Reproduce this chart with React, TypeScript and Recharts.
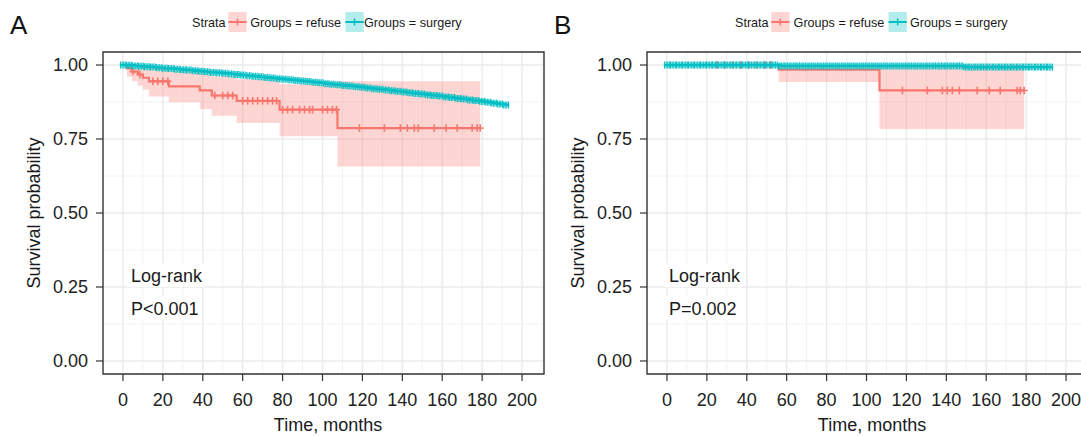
import React from 'react';
import {
  ComposedChart,
  Line,
  Area,
  Scatter,
  XAxis,
  YAxis,
  CartesianGrid,
  ReferenceArea,
} from 'recharts';

// ---------- data ----------
const xTicks = [0, 20, 40, 60, 80, 100, 120, 140, 160, 180, 200];
const xMinor = [10, 30, 50, 70, 90, 110, 130, 150, 170, 190, 210];
const yTicks = [0, 0.25, 0.5, 0.75, 1.0];
const yMinor = [0.125, 0.375, 0.625, 0.875];

const surgeryTime = [
  0, 3, 6, 9, 12, 15, 18, 21, 24, 27, 30, 33, 36, 39, 42, 45, 48, 51, 54, 57, 60, 63, 66, 69, 72, 75,
  78, 81, 84, 87, 90, 93, 96, 99, 102, 105, 108, 111, 114, 117, 120, 123, 126, 129, 132, 135, 138,
  141, 144, 147, 150, 153, 156, 159, 162, 165, 168, 171, 174, 177, 180, 183, 186, 189, 192,
];
const surgeryA_surv = [
  1.0, 0.999, 0.997, 0.996, 0.994, 0.993, 0.991, 0.989, 0.988, 0.986, 0.984, 0.983, 0.981, 0.979,
  0.977, 0.975, 0.974, 0.972, 0.97, 0.968, 0.966, 0.964, 0.962, 0.96, 0.958, 0.956, 0.954, 0.952,
  0.95, 0.948, 0.946, 0.944, 0.942, 0.94, 0.937, 0.935, 0.933, 0.931, 0.929, 0.927, 0.925, 0.922,
  0.92, 0.918, 0.916, 0.913, 0.911, 0.909, 0.906, 0.904, 0.902, 0.899, 0.897, 0.895, 0.892, 0.89,
  0.887, 0.885, 0.882, 0.88, 0.877, 0.874, 0.871, 0.868, 0.865,
];
const surgeryB_surv = [
  1.0, 1.0, 1.0, 1.0, 1.0, 1.0, 1.0, 1.0, 1.0, 1.0, 1.0, 1.0, 1.0, 1.0, 1.0, 1.0, 1.0, 1.0, 1.0,
  0.997, 0.997, 0.997, 0.997, 0.997, 0.997, 0.997, 0.997, 0.997, 0.997, 0.997, 0.997, 0.997, 0.997,
  0.997, 0.997, 0.997, 0.997, 0.997, 0.997, 0.997, 0.997, 0.997, 0.997, 0.997, 0.997, 0.997, 0.997,
  0.997, 0.997, 0.997, 0.993, 0.993, 0.993, 0.993, 0.993, 0.993, 0.993, 0.993, 0.993, 0.993, 0.993,
  0.993, 0.993, 0.993, 0.993,
];

const refuseA_time = [0, 2, 4.5, 7.5, 10, 13, 23, 38.5, 44.5, 57, 78.5, 107.5, 179];
const refuseA_surv = [1.0, 0.989, 0.978, 0.968, 0.957, 0.945, 0.928, 0.914, 0.897, 0.879, 0.849, 0.787, 0.787];
const refuseA_low = [1.0, 0.96, 0.945, 0.93, 0.917, 0.894, 0.874, 0.851, 0.829, 0.804, 0.759, 0.657, 0.657];
const refuseA_high = [1.0, 1.0, 1.0, 1.0, 0.995, 0.99, 0.98, 0.972, 0.962, 0.952, 0.935, 0.945, 0.945];
const refuseA_censor = [
  5, 8.5, 15, 17.5, 20, 22.5, 46, 50, 52.5, 55, 60, 62.5, 65, 67.5, 70, 72.5, 75, 77, 80, 82.5, 85,
  88.5, 91, 93.5, 95, 100, 102.5, 105, 107, 118.5, 131, 139, 142.5, 146, 148, 156, 162, 167.5, 175,
  177.5, 179,
];

const refuseB_time = [0, 56, 106.5, 179];
const refuseB_surv = [1.0, 0.984, 0.914, 0.914];
const refuseB_low = [1.0, 0.943, 0.784, 0.784];
const refuseB_high = [1.0, 1.0, 1.0, 1.0];
const refuseB_censor = [
  25, 29, 33, 37, 41, 45, 49, 52, 118, 130.5, 138, 140.5, 143, 146.5, 155.5, 161.5, 167, 175.5, 177, 179,
];

// ---------- helpers ----------
const RED = '#F8766D';
const TEAL = '#00BFC4';
const FONT = '"Liberation Sans", Arial, Helvetica, sans-serif';
const X_DOMAIN: [number, number] = [-10, 211];
const Y_DOMAIN: [number, number] = [-0.044, 1.044];

function stepAt(times: number[], vals: number[], t: number) {
  let v = vals[0];
  for (let i = 0; i < times.length; i++) if (times[i] <= t) v = vals[i];
  return v;
}

function buildRefuse(times: number[], surv: number[], low: number[], high: number[]) {
  return times.map((t, i) => ({ t, s: surv[i], ci: [low[i], high[i]] }));
}
function buildSurgery(times: number[], surv: number[]) {
  return times.map((t, i) => ({ t, s: surv[i] }));
}
function buildCensor(ct: number[], times: number[], surv: number[]) {
  return ct.map((t) => ({ t, s: stepAt(times, surv, t) }));
}

function Plus({ cx, cy, color }: any) {
  if (cx == null || cy == null) return null;
  return (
    <g>
      <line x1={cx - 3.5} x2={cx + 3.5} y1={cy} y2={cy} stroke={color} strokeWidth={1.6} />
      <line x1={cx} x2={cx} y1={cy - 3.8} y2={cy + 3.8} stroke={color} strokeWidth={1.6} />
    </g>
  );
}

// dense censoring marks of the large surgery group
function DensePlus({ cx, cy, color }: any) {
  if (cx == null || cy == null) return null;
  const offs = [-2.4, -0.8, 0.8, 2.4];
  return (
    <g>
      <line x1={cx - 3.2} x2={cx + 3.2} y1={cy} y2={cy} stroke={color} strokeWidth={2} />
      {offs.map((o) => (
        <line
          key={o}
          x1={cx + o}
          x2={cx + o}
          y1={cy - 3.5}
          y2={cy + 3.5}
          stroke={color}
          strokeWidth={1.1}
        />
      ))}
    </g>
  );
}

type PanelProps = {
  left: number;
  refuse: any[];
  surgery: any[];
  censor: any[];
};

function Panel({ left, refuse, surgery, censor }: PanelProps) {
  return (
    <div style={{ position: 'absolute', left, top: 0, width: 560, height: 436 }}>
      <ComposedChart width={560} height={436} margin={{ top: 52, right: 16, bottom: 22, left: 43 }}>
        <CartesianGrid
          horizontalValues={yMinor}
          verticalValues={xMinor}
          stroke="#F2F2F2"
          strokeWidth={1}
        />
        <CartesianGrid
          horizontalValues={yTicks}
          verticalValues={xTicks}
          stroke="#EBEBEB"
          strokeWidth={1.4}
        />
        <XAxis
          type="number"
          dataKey="t"
          domain={X_DOMAIN}
          allowDataOverflow
          ticks={xTicks}
          interval={0}
          height={40}
          axisLine={false}
          tickSize={7}
          tickMargin={12}
          tickLine={{ stroke: '#333', strokeWidth: 1.2 }}
          tick={{ fill: '#222', fontSize: 18, fontFamily: FONT }}
        />
        <YAxis
          type="number"
          domain={Y_DOMAIN}
          allowDataOverflow
          ticks={yTicks}
          interval={0}
          width={60}
          axisLine={false}
          tickSize={7}
          tickMargin={8}
          tickFormatter={(v: number) => v.toFixed(2)}
          tickLine={{ stroke: '#333', strokeWidth: 1.2 }}
          tick={{ fill: '#222', fontSize: 18, fontFamily: FONT }}
        />
        <Area
          data={refuse}
          dataKey="ci"
          type="stepAfter"
          stroke="none"
          fill={RED}
          fillOpacity={0.3}
          isAnimationActive={false}
        />
        <Line
          data={refuse}
          dataKey="s"
          type="stepAfter"
          stroke={RED}
          strokeWidth={2.2}
          dot={false}
          isAnimationActive={false}
        />
        <Scatter
          data={censor}
          dataKey="s"
          isAnimationActive={false}
          shape={(p: any) => <Plus cx={p.cx} cy={p.cy} color={RED} />}
        />
        <Line
          data={surgery}
          dataKey="s"
          type="stepAfter"
          stroke={TEAL}
          strokeWidth={2.4}
          isAnimationActive={false}
          dot={(p: any) => <DensePlus key={`d${p.index}`} cx={p.cx} cy={p.cy} color={TEAL} />}
        />
        <ReferenceArea
          x1={X_DOMAIN[0]}
          x2={X_DOMAIN[1]}
          y1={Y_DOMAIN[0]}
          y2={Y_DOMAIN[1]}
          fill="none"
          fillOpacity={0}
          stroke="#333"
          strokeWidth={1.4}
          ifOverflow="visible"
        />
      </ComposedChart>
    </div>
  );
}

function Key({ x, color }: { x: number; color: string }) {
  return (
    <g>
      <rect x={x} y={12} width={18.3} height={20} fill={color} fillOpacity={0.3} />
      <line x1={x} x2={x + 18.3} y1={22} y2={22} stroke={color} strokeWidth={2} />
      <line x1={x + 9.15} x2={x + 9.15} y1={18.5} y2={25.5} stroke={color} strokeWidth={1.5} />
    </g>
  );
}

function Overlay() {
  const t = { fontFamily: FONT, fill: '#1a1a1a' } as const;
  return (
    <svg
      width={1081}
      height={436}
      style={{ position: 'absolute', left: 0, top: 0, pointerEvents: 'none' }}
    >
      {/* panel letters */}
      <text x={10} y={33.5} fontSize={26} {...t} fill="#111">A</text>
      <text x={554} y={33.5} fontSize={26} {...t} fill="#111">B</text>

      {/* legends */}
      <text x={192} y={27} fontSize={12.6} {...t}>Strata</text>
      <Key x={228.3} color={RED} />
      <text x={250.3} y={27} fontSize={12.6} {...t}>Groups = refuse</text>
      <Key x={345.4} color={TEAL} />
      <text x={364} y={27} fontSize={12.6} {...t}>Groups = surgery</text>

      <text x={735} y={27} fontSize={12.6} {...t}>Strata</text>
      <Key x={771.2} color={RED} />
      <text x={793.6} y={27} fontSize={12.6} {...t}>Groups = refuse</text>
      <Key x={888.5} color={TEAL} />
      <text x={910} y={27} fontSize={12.6} {...t}>Groups = surgery</text>

      {/* y axis titles */}
      <text transform="translate(40,213) rotate(-90)" textAnchor="middle" fontSize={18} {...t}>
        Survival probability
      </text>
      <text transform="translate(584,213) rotate(-90)" textAnchor="middle" fontSize={18} {...t}>
        Survival probability
      </text>

      {/* x axis titles */}
      <text x={328} y={431} textAnchor="middle" fontSize={18} {...t}>Time, months</text>
      <text x={872} y={431} textAnchor="middle" fontSize={18} {...t}>Time, months</text>

      {/* annotations */}
      <rect x={127} y={263} width={78} height={24} fill="#fff" />
      <text x={131} y={281.5} fontSize={18} {...t}>Log-rank</text>
      <rect x={127} y={296} width={72} height={24} fill="#fff" />
      <text x={131} y={314.5} fontSize={18} {...t}>P&lt;0.001</text>

      <rect x={665} y={263} width={78} height={24} fill="#fff" />
      <text x={669} y={281.5} fontSize={18} {...t}>Log-rank</text>
      <rect x={665} y={296} width={72} height={24} fill="#fff" />
      <text x={669} y={314.5} fontSize={18} {...t}>P=0.002</text>
    </svg>
  );
}

export default function App() {
  const refuseA = buildRefuse(refuseA_time, refuseA_surv, refuseA_low, refuseA_high);
  const refuseB = buildRefuse(refuseB_time, refuseB_surv, refuseB_low, refuseB_high);
  const surgeryA = buildSurgery(surgeryTime, surgeryA_surv);
  const surgeryB = buildSurgery(surgeryTime, surgeryB_surv);
  const censorA = buildCensor(refuseA_censor, refuseA_time, refuseA_surv);
  const censorB = buildCensor(refuseB_censor, refuseB_time, refuseB_surv);
  return (
    <div
      style={{
        position: 'absolute',
        left: 0,
        top: 0,
        width: 1081,
        height: 436,
        overflow: 'hidden',
        background: '#fff',
      }}
    >
      <Panel left={0} refuse={refuseA} surgery={surgeryA} censor={censorA} />
      <Panel left={544} refuse={refuseB} surgery={surgeryB} censor={censorB} />
      <Overlay />
    </div>
  );
}
